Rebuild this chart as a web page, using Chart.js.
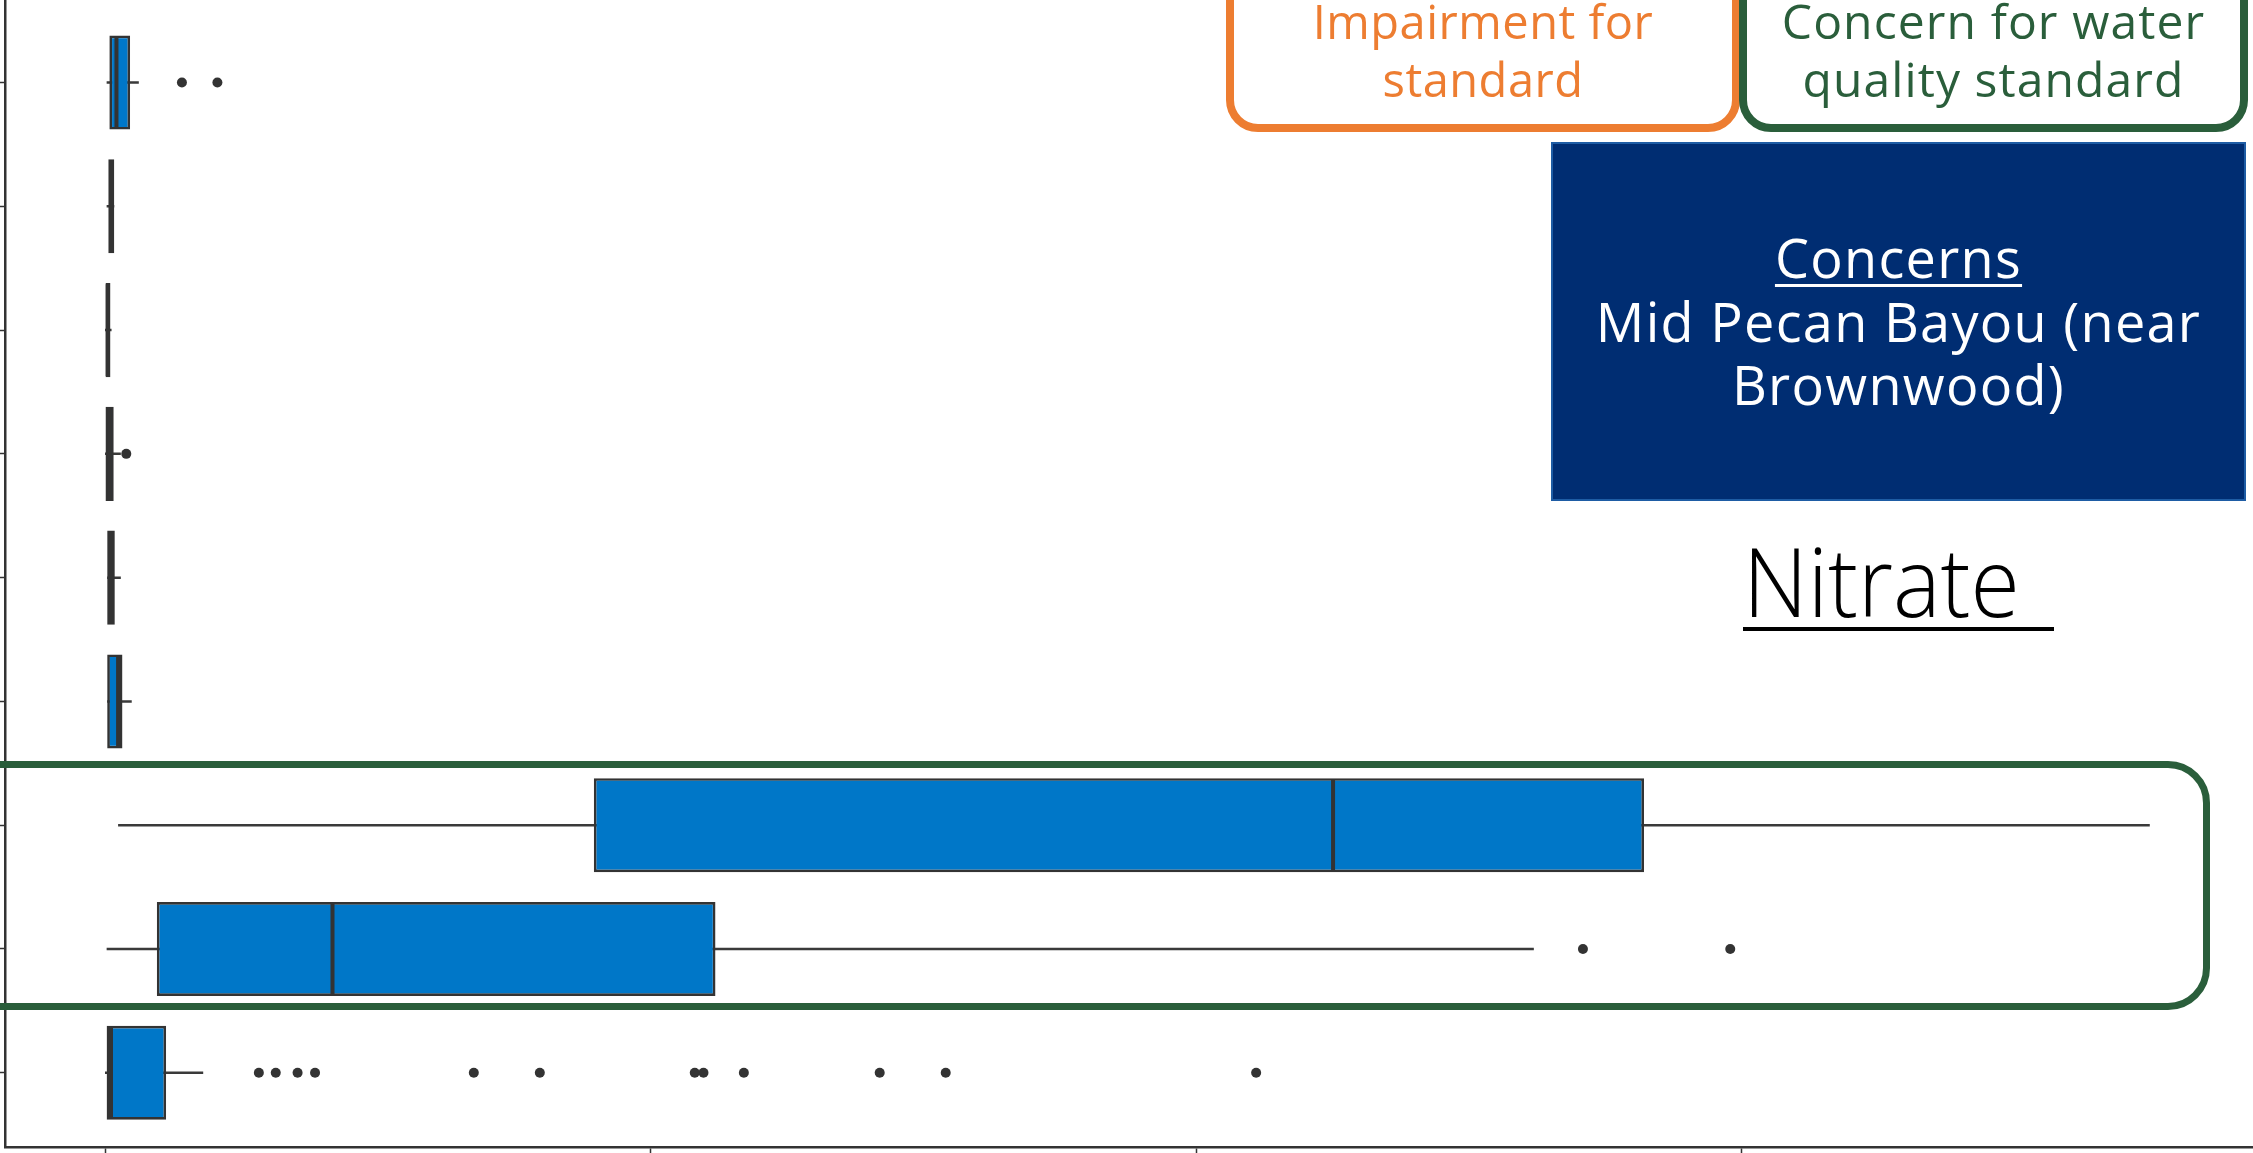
<!DOCTYPE html>
<html>
<head>
<meta charset="utf-8">
<title>Nitrate</title>
<script src="https://cdn.jsdelivr.net/npm/chart.js@4.4.1/dist/chart.umd.min.js"></script>
<style>
  html, body { margin: 0; padding: 0; background: #fff; overflow: hidden; }
  #wrap { position: relative; width: 2253px; height: 1153px; overflow: hidden; }
  #c { position: absolute; left: 0; top: 0; }
  .frame { position: absolute; box-sizing: border-box; }
  .txt { position: absolute; white-space: nowrap; font-family: "Open Sans", sans-serif; line-height: 1; text-align: center; }
</style>
</head>
<body>
<div id="wrap">
  <canvas id="c" width="2253" height="1153"></canvas>

  <!-- outline around the two highlighted sites -->
  <div class="frame" style="left:-60px; top:761px; width:2270px; height:249px; border:7px solid #2A5E3B; border-radius:42px;"></div>

  <!-- legend keys -->
  <div class="frame" style="left:1226px; top:-80px; width:514px; height:212px; border:8px solid #ED7D31; border-radius:32px;"></div>
  <div class="txt" style="left:1226px; width:514px; top:-2px; font-size:47px; letter-spacing:0.5px; color:#ED7D31;">Impairment for</div>
  <div class="txt" style="left:1226px; width:514px; top:56px; font-size:47px; letter-spacing:0.5px; color:#ED7D31;">standard</div>

  <div class="frame" style="left:1739px; top:-80px; width:509px; height:212px; border:8px solid #2A5E3B; border-radius:32px;"></div>
  <div class="txt" style="left:1739px; width:509px; top:-3px; font-size:48px; letter-spacing:1.1px; color:#2A5E3B;">Concern for water</div>
  <div class="txt" style="left:1739px; width:509px; top:55px; font-size:48px; letter-spacing:1.1px; color:#2A5E3B;">quality standard</div>

  <!-- concerns panel -->
  <div class="frame" style="left:1551px; top:142px; width:695px; height:359px; background:#002D72; border:2px solid #1E5CA4;"></div>
  <div class="txt" style="left:1551px; width:695px; top:230px; font-size:54px; letter-spacing:1.3px; color:#fff; text-decoration:underline; text-decoration-thickness:3px; text-underline-offset:6px;">Concerns</div>
  <div class="txt" style="left:1551px; width:695px; top:294px; font-size:54px; letter-spacing:1.3px; color:#fff;">Mid Pecan Bayou (near</div>
  <div class="txt" style="left:1551px; width:695px; top:357px; font-size:54px; letter-spacing:1.3px; color:#fff;">Brownwood)</div>

  <!-- title -->
  <div class="txt" style="left:1743px; top:532px; font-size:96px; font-weight:300; color:#000; text-align:left; transform:scaleX(0.935); transform-origin:0 0;">Nitrate</div>
  <div class="frame" style="left:1743px; top:627px; width:311px; height:4px; background:#000;"></div>
</div>

<script>
// Nitrate (mg/L) box-plot summaries, one entry per monitoring site, top to bottom
const rows        = [0, 1, 2, 3, 4, 5, 6, 7, 8];
const whiskerLow  = [0.003, 0.003, 0.000, 0.000, 0.004, 0.004, 0.024, 0.003, 0.000];
const q1          = [0.008, 0.006, 0.000, 0.000, 0.004, 0.004, 0.896, 0.095, 0.003];
const median      = [0.021, 0.011, 0.005, 0.008, 0.011, 0.024, 2.251, 0.417, 0.011];
const q3          = [0.046, 0.017, 0.010, 0.016, 0.018, 0.032, 2.821, 1.119, 0.112];
const whiskerHigh = [0.062, 0.017, 0.012, 0.029, 0.029, 0.049, 3.748, 2.619, 0.180];
const outliers    = [
  [0.141, 0.206],
  [],
  [],
  [0.039],
  [],
  [],
  [],
  [2.709, 2.979],
  [0.282, 0.313, 0.353, 0.385, 0.676, 0.797, 1.081, 1.097, 1.171, 1.420, 1.541, 2.110]
];
const xTicks = [0, 1, 2, 3];

const BOX_WIDTH = 0.76;          // box height as a fraction of the row spacing
const EDGE = '#333333';
const FILL = '#0077C8';

// box bodies: floating bars from Q1 to Q3
const boxes = rows.map(i => ({ y: i, x: [q1[i], q3[i]] }));

// whiskers span the full range and sit behind the boxes
const whiskers = [];
rows.forEach(i => {
  whiskers.push({ x: whiskerLow[i], y: i }, { x: whiskerHigh[i], y: i }, { x: null, y: i });
});

// median strokes across each box
const half = BOX_WIDTH / 2 - 0.01;
const medians = [];
rows.forEach(i => {
  medians.push({ x: median[i], y: i - half }, { x: median[i], y: i + half }, { x: null, y: i + half });
});

const fliers = [];
rows.forEach(i => outliers[i].forEach(v => fliers.push({ x: v, y: i })));

const axisStyle = {
  grid: { display: true, drawOnChartArea: false, drawTicks: true, tickColor: EDGE, tickWidth: 1.5, offset: false },
  border: { display: true, color: EDGE, width: 2.5 }
};

new Chart(document.getElementById('c'), {
  type: 'bar',
  data: {
    datasets: [
      {
        type: 'line', data: whiskers, order: 3,
        borderColor: '#3a3a3a', borderWidth: 2.5, pointRadius: 0, spanGaps: false, fill: false
      },
      {
        type: 'bar', data: boxes, order: 2,
        backgroundColor: FILL, borderColor: EDGE, borderWidth: 2.7, borderSkipped: false,
        categoryPercentage: 1, barPercentage: BOX_WIDTH
      },
      {
        type: 'line', data: medians, order: 1,
        borderColor: EDGE, borderWidth: 4, pointRadius: 0, spanGaps: false, fill: false
      },
      {
        type: 'scatter', data: fliers, order: 0,
        backgroundColor: EDGE, borderWidth: 0, pointRadius: 5, showLine: false
      }
    ]
  },
  options: {
    responsive: false,
    animation: false,
    indexAxis: 'y',
    layout: { padding: 0, autoPadding: false },
    plugins: { legend: { display: false }, tooltip: { enabled: false } },
    scales: {
      x: {
        type: 'linear', position: 'bottom', min: -0.1833, max: 3.9372, offset: false,
        afterBuildTicks: s => { s.ticks = xTicks.map(v => ({ value: v })); },
        ticks: { display: false, stepSize: 1, includeBounds: false },
        grid: { ...axisStyle.grid, tickLength: 6 },
        border: axisStyle.border
      },
      y: {
        type: 'linear', position: 'left', reverse: true, min: -0.667, max: 8.6, offset: false,
        afterBuildTicks: s => { s.ticks = rows.map(v => ({ value: v })); },
        ticks: { display: false, stepSize: 1, includeBounds: false },
        grid: { ...axisStyle.grid, tickLength: 5 },
        border: axisStyle.border
      }
    }
  }
});
</script>
</body>
</html>
